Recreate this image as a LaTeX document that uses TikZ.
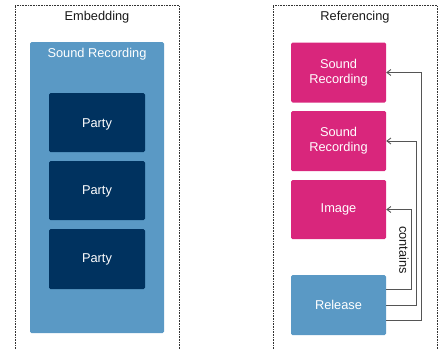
\documentclass[tikz,border=0pt]{standalone}
\usepackage{fontspec}
\setmainfont{Liberation Sans}
\usetikzlibrary{arrows.meta}
\definecolor{lblue}{HTML}{5A99C5}
\definecolor{navy}{HTML}{00325F}
\definecolor{pink}{HTML}{D9267C}
\definecolor{lin}{HTML}{555555}
\tikzset{
  frame/.style={draw=black!80, densely dotted, line width=0.6pt},
  box/.style={rounded corners=1.5pt, text=white, font=\fontsize{12.8}{15}\selectfont, align=center},
  ttl/.style={font=\fontsize{12.8}{15}\selectfont, text=black!90},
  conn/.style={draw=lin, line width=0.9pt},
  arr/.style={conn, -{Straight Barb[length=4pt,width=6pt]}}
}
\begin{document}
\begin{tikzpicture}[x=1pt,y=-1pt]
\useasboundingbox (0,0) rectangle (438,349);
% frames
\draw[frame] (15,360) -- (15,5) -- (179,5) -- (179,360);
\draw[frame] (273,360) -- (273,5) -- (437,5) -- (437,360);
\node[ttl] (emb) at (97,17) {Embedding};
\node[ttl] (ref) at (355,17) {Referencing};
% embedding
\fill[lblue, rounded corners=1.5pt] (30,42) rectangle (164,333);
\node[box] (sr) at (97,54) {Sound Recording};
\fill[navy, rounded corners=1.5pt] (49,93) rectangle (145,152);
\node[box] (p1) at (97,124.5) {Party};
\fill[navy, rounded corners=1.5pt] (49,161) rectangle (145,220);
\node[box] (p2) at (97,191) {Party};
\fill[navy, rounded corners=1.5pt] (49,229) rectangle (145,289);
\node[box] (p3) at (97,259) {Party};
% referencing
\node[box, fill=pink, minimum width=95pt, minimum height=60pt] (r1) at (338.5,72.5) {Sound\\Recording};
\node[box, fill=pink, minimum width=95pt, minimum height=60pt] (r2) at (338.5,141) {Sound\\Recording};
\node[box, fill=pink, minimum width=95pt, minimum height=59pt] (r3) at (338.5,209.5) {Image};
\node[box, fill=lblue, minimum width=95pt, minimum height=60pt] (rel) at (338.5,305) {Release};
% connectors
\coordinate (ya) at (0,320);
\coordinate (yb) at (0,305);
\coordinate (yc) at (0,289);
\coordinate (xa) at (421,0);
\coordinate (xb) at (416.3,0);
\coordinate (xc) at (411.7,0);
\draw[arr] (rel.east |- ya) -- (xa |- ya) -- (xa |- r1.east) -- (r1.east);
\draw[arr] (rel.east |- yb) -- (xb |- yb) -- (xb |- r2.east) -- (r2.east);
\draw[arr] (rel.east |- yc) -- (xc |- yc) -- (xc |- r3.east) -- (r3.east);
\node[ttl, rotate=-90] (lbl) at (404,250) {contains};
\end{tikzpicture}
\end{document}
